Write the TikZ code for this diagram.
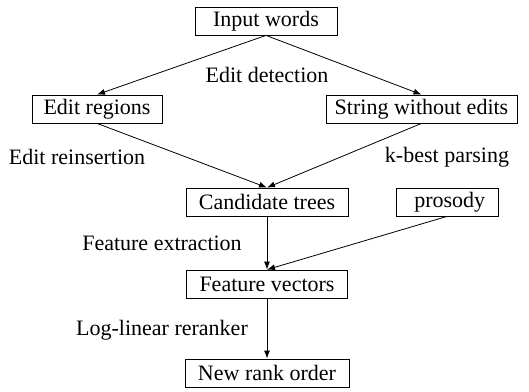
\documentclass[tikz,border=0pt]{standalone}
\usepackage{fontspec}
\setmainfont{Liberation Serif}
\usepackage{tikz}
\usetikzlibrary{arrows.meta}

\tikzset{
  stage/.style={draw, line width=0.8pt, minimum height=28pt, inner xsep=2pt,
    font=\fontsize{22}{26}\selectfont},
  lbl/.style={font=\fontsize{22}{26}\selectfont}
}

\begin{document}
\begin{tikzpicture}[x=1pt,y=1pt]
  \useasboundingbox (0,0) rectangle (529,391);
  % boxes of the pipeline
  \node[stage, minimum width=142pt] (in)   at (266,370) {Input words};
  \node[stage, minimum width=130pt] (reg)  at (97,282)  {Edit regions};
  \node[stage, minimum width=191pt] (str)  at (421.5,282) {String without edits};
  \node[stage, minimum width=162pt] (cand) at (267,189) {Candidate trees};
  \node[stage, minimum width=102pt] (pros) at (447,189) {\ prosody};
  \node[stage, minimum width=161pt] (feat) at (267,107) {Feature vectors};
  \node[stage, minimum width=164pt] (rank) at (267,18)  {New rank order};

  % step labels
  \node[lbl] (det)   at (267,316) {Edit detection};
  \node[lbl] (reins) at (77,234)  {Edit reinsertion};
  \node[lbl] (kbest) at (447,234) {k-best parsing};
  \node[lbl] (fext)  at (162,148) {Feature extraction};
  \node[lbl] (llr)   at (162,61)  {Log-linear reranker};

  \draw[->, >={Latex[length=8pt,width=6pt]}, line width=0.8pt] (in.south) -- (reg.north);
  \draw[->, >={Latex[length=8pt,width=6pt]}, line width=0.8pt] (in.south) -- (str.north);
  \draw[->, >={Latex[length=8pt,width=6pt]}, line width=0.8pt] (reg.south) -- (cand.north);
  \draw[->, >={Latex[length=8pt,width=6pt]}, line width=0.8pt] (str.south) -- (cand.north);
  \draw[->, >={Latex[length=8pt,width=6pt]}, line width=0.8pt] (cand.south) -- (feat.north);
  \draw[->, >={Latex[length=8pt,width=6pt]}, line width=0.8pt] (pros.south) -- (feat.north);
  \draw[->, >={Latex[length=8pt,width=6pt]}, line width=0.8pt] (feat.south) -- (rank.north);
\end{tikzpicture}
\end{document}
